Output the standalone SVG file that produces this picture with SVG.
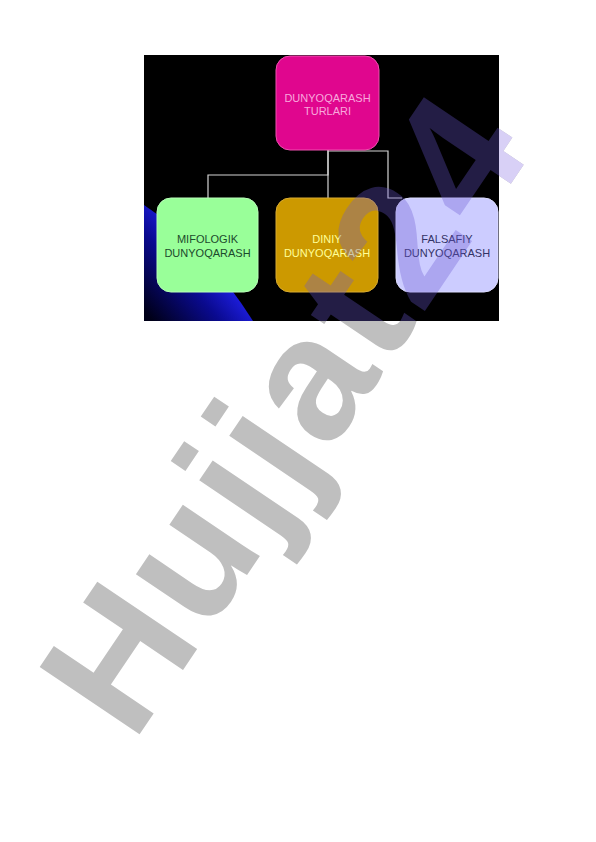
<svg xmlns="http://www.w3.org/2000/svg" width="596" height="842" viewBox="0 0 596 842">
  <defs>
    <style>
      .lbl { font-family: "Liberation Sans", Arial, sans-serif; font-size: 11px; text-anchor: middle; }
      .box { stroke-width: 1; }
      .conn { fill: none; stroke: #d4d4d4; stroke-width: 1.2; }
      .wm { font-family: "Liberation Sans", Arial, sans-serif; font-weight: bold; font-size: 175px; letter-spacing: 5px; }
    </style>
    <linearGradient id="blueGrad" x1="215" y1="262" x2="150" y2="318" gradientUnits="userSpaceOnUse">
      <stop offset="0" stop-color="#2020e8"/>
      <stop offset="0.4" stop-color="#0a0a90"/>
      <stop offset="1" stop-color="#000018"/>
    </linearGradient>
    <clipPath id="clipRect"><rect x="144" y="55" width="355" height="266"/></clipPath>
    <clipPath id="clipRight"><rect x="499" y="0" width="97" height="321"/></clipPath>
    <clipPath id="clipOut">
      <path d="M0,0 H596 V842 H0 Z M144,55 V321 H499 V55 Z" clip-rule="evenodd"/>
    </clipPath>
  </defs>

  <rect x="0" y="0" width="596" height="842" fill="#ffffff"/>

  <!-- watermark (white area) -->
  <g id="watermark-back" clip-path="url(#clipOut)">
    <text class="wm" fill="#bfbfbf" transform="translate(133,744) rotate(-56)" x="0" y="0">Hujjat24</text>
  </g>
  <g id="watermark-right" clip-path="url(#clipRight)">
    <text class="wm" fill="#d8d0f6" transform="translate(133,744) rotate(-56)" x="0" y="0">Hujjat24</text>
  </g>

  <!-- slide background -->
  <g id="background">
    <rect x="144" y="55" width="355" height="266" fill="#000000"/>
    <path d="M144,205 Q205,245 253,321 L144,321 Z" fill="url(#blueGrad)"/>
  </g>

  <!-- connectors -->
  <g id="connectors">
    <path class="conn" d="M328,150 V175 H208 V198"/>
    <path class="conn" d="M328,150 V198"/>
    <path class="conn" d="M328,151 H388 V198 H402"/>
  </g>

  <!-- nodes -->
  <g id="node-root">
    <rect class="box" x="276" y="56" width="103" height="94" rx="14" fill="#e0068e" stroke="#f050b0"/>
    <text class="lbl" x="327.5" y="102" fill="#f8a8dc">DUNYOQARASH</text>
    <text class="lbl" x="327.5" y="115" fill="#f8a8dc">TURLARI</text>
  </g>
  <g id="node-mifologik">
    <rect class="box" x="157" y="198" width="101" height="94" rx="14" fill="#99ff99" stroke="#b8ffb8"/>
    <text class="lbl" x="207.5" y="243" fill="#1c4a2c">MIFOLOGIK</text>
    <text class="lbl" x="207.5" y="256.5" fill="#1c4a2c">DUNYOQARASH</text>
  </g>
  <g id="node-diniy">
    <rect class="box" x="276" y="198" width="102" height="94" rx="14" fill="#cc9900" stroke="#d8aa30"/>
    <text class="lbl" x="327" y="243" fill="#ffff99">DINIY</text>
    <text class="lbl" x="327" y="256.5" fill="#ffff99">DUNYOQARASH</text>
  </g>
  <g id="node-falsafiy">
    <rect class="box" x="396" y="198" width="102" height="94" rx="14" fill="#ccccff" stroke="#dcdcff"/>
    <text class="lbl" x="447" y="243" fill="#333366">FALSAFIY</text>
    <text class="lbl" x="447" y="256.5" fill="#333366">DUNYOQARASH</text>
  </g>

  <!-- watermark over slide -->
  <g id="watermark-front" clip-path="url(#clipRect)">
    <text class="wm" fill="#6a58d0" fill-opacity="0.33" transform="translate(133,744) rotate(-56)" x="0" y="0">Hujjat24</text>
  </g>
</svg>
